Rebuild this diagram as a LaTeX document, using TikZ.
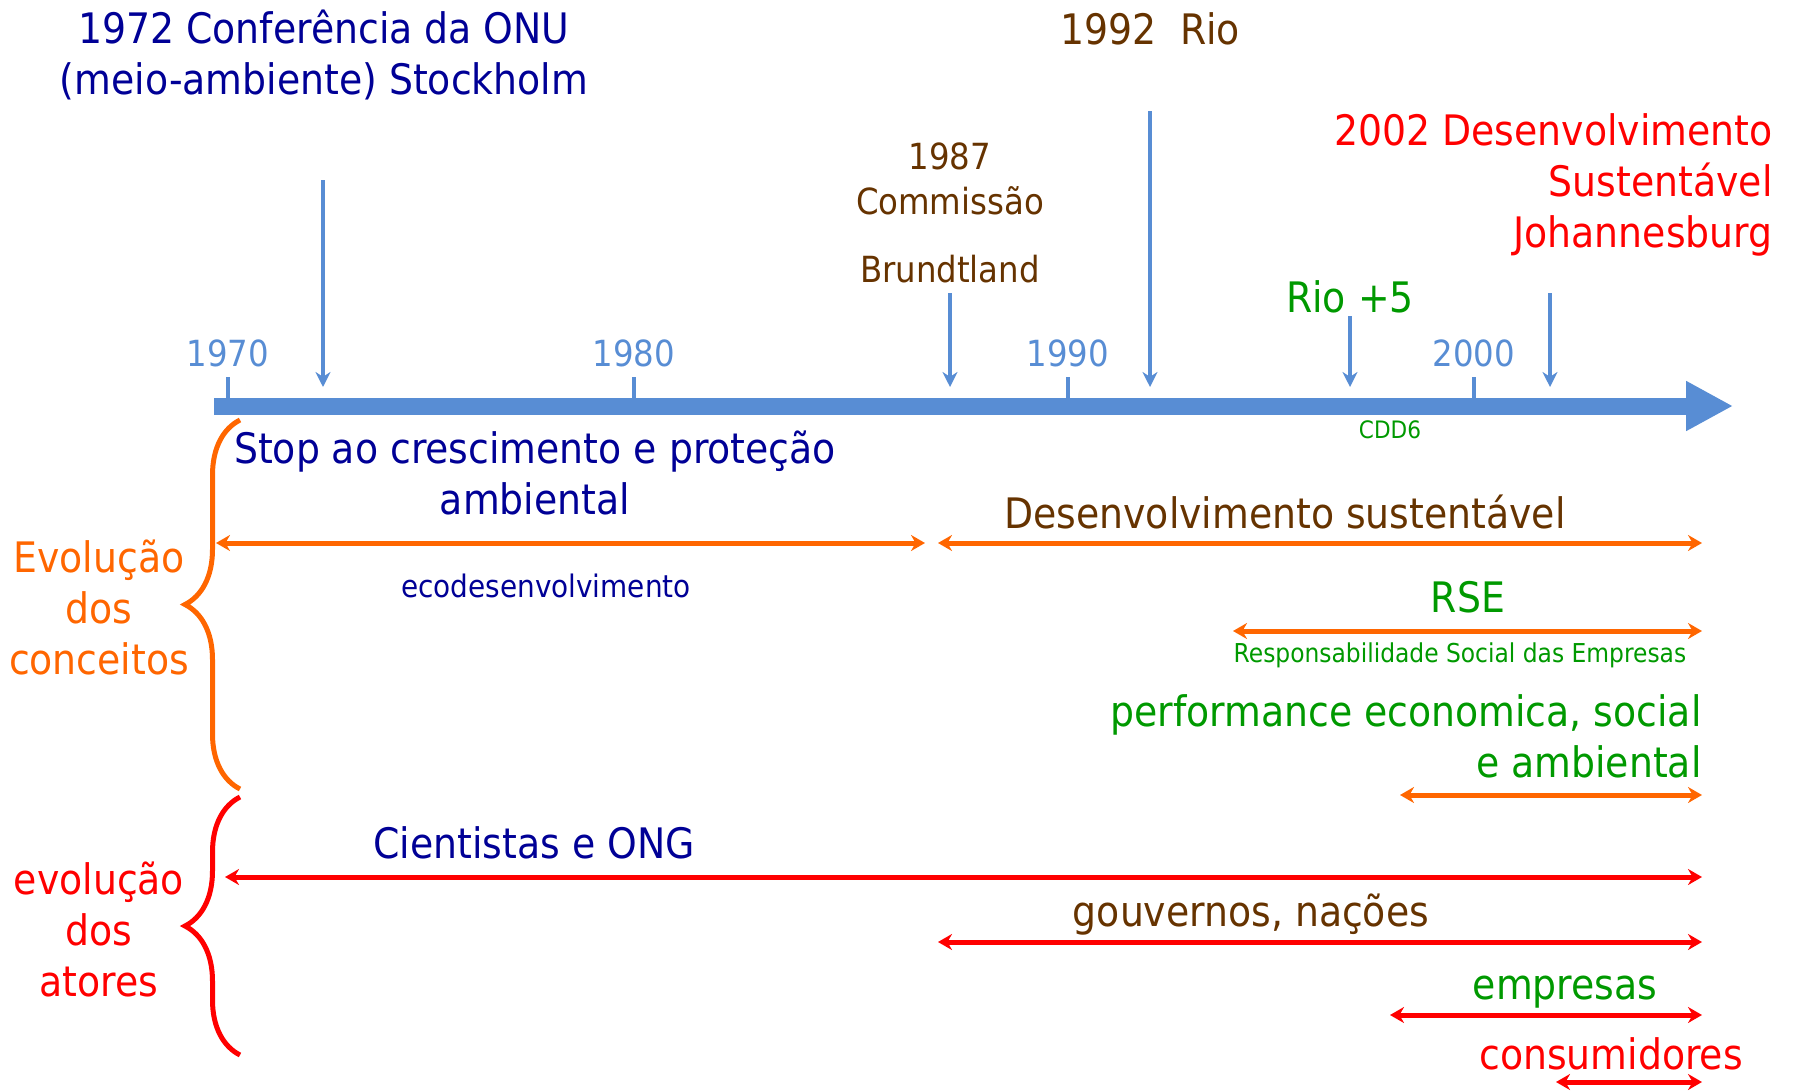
\documentclass[tikz,border=0pt]{standalone}
\usepackage{fontspec}
\setmainfont{DejaVu Sans Condensed}
\usetikzlibrary{arrows.meta,decorations.pathreplacing}
\definecolor{navytext}{RGB}{0,0,150}
\definecolor{browntext}{RGB}{102,51,0}
\definecolor{greentext}{RGB}{0,153,0}
\definecolor{orangeline}{RGB}{255,102,0}
\definecolor{redline}{RGB}{255,0,0}
\definecolor{axisblue}{RGB}{88,141,212}
\begin{document}
\begin{tikzpicture}[x=0.5pt,y=-0.5pt,
  big/.style={font=\fontsize{21}{25.5}\selectfont,inner sep=0pt,align=center},
  mid/.style={font=\fontsize{18}{22.5}\selectfont,inner sep=0pt,align=center},
  small/.style={font=\fontsize{13}{15}\selectfont,inner sep=0pt},
  year/.style={mid,text=axisblue},
  evt/.style={draw=axisblue,line width=1.75pt,-{Stealth[length=7.5pt,width=7.5pt]}},
  tickmark/.style={draw=axisblue,line width=1.75pt},
  span/.style={line width=2.5pt,{Stealth[length=7pt,width=8pt]}-{Stealth[length=7pt,width=8pt]}},
  curly/.style={line width=2.5pt,decorate,decoration={brace,amplitude=27.5pt}}]
\useasboundingbox (0,0) rectangle (1794,1092);
% Time axis
\coordinate (tlstart) at (214,406);
\coordinate (tlend) at (1733,406);
\draw[axisblue,line width=8.5pt,-{Triangle[length=23.5pt,width=23.5pt]}] (tlstart) -- (tlend);
\foreach \x/\yr in {228/1970,634/1980,1068/1990,1474/2000} {
  \node[year] (y\yr) at (\x,353) {\yr};
  \draw[tickmark] (\x,398) -- (\x,377);
}
% Events
\foreach \n/\x/\y in {stockholm/323/180,brundtland/950/293,rio/1150/111,rioplus/1350/316,joburg/1550/293} {
  \coordinate (\n-top) at (\x,\y);
  \coordinate (\n-bot) at (\x,387);
  \draw[evt] (\n-top) -- (\n-bot);
}
\node[big,text=navytext] (stockholm) at (324,55) {1972 Conferência da ONU\\(meio-ambiente) Stockholm};
\node[big,text=browntext] (rio) at (1150,29) {1992\ \ Rio};
\node[mid,text=browntext] (brundtland) at (950,213) {1987\\Commissão\\[11.5pt]Brundtland};
\node[big,text=greentext] (rioplus) at (1350,297) {Rio +5};
\node[big,text=redline,align=right,anchor=east] (joburg) at (1773,185) {2002 Desenvolvimento\\Sustentável\\Johannesburg};
\node[font=\fontsize{12}{14}\selectfont,inner sep=0pt,text=greentext] (cdd) at (1390,430) {CDD6};
% Braces
\draw[curly,orangeline] (240,789) -- (240,420);
\draw[curly,redline] (240,1055) -- (240,797);
\node[big,text=orangeline] (conceitos) at (99,607) {Evolução\\dos\\conceitos};
\node[big,text=redline] (atores) at (99,929) {evolução\\dos\\atores};
% Concepts and actors
\node[big,text=navytext] (stop) at (535,473) {Stop ao crescimento e proteção\\ambiental};
\node[font=\fontsize{15.5}{18}\selectfont,inner sep=0pt,text=navytext] (eco) at (546,586) {ecodesenvolvimento};
\node[big,text=browntext] (ds) at (1285,512) {Desenvolvimento sustentável};
\node[big,text=greentext] (rse) at (1468,597) {RSE};
\node[small,text=greentext] (rsefull) at (1460,655) {Responsabilidade Social das Empresas};
\node[big,text=greentext,align=right,anchor=east] (perf) at (1702,736) {performance economica, social\\e ambiental};
\node[big,text=navytext] (ong) at (534,843) {Cientistas e ONG};
\node[big,text=browntext] (gov) at (1251,915) {gouvernos, nações};
\node[big,text=greentext] (emp) at (1565,992) {empresas};
\node[big,text=redline] (cons) at (1611,1054) {consumidores};
\foreach \n/\xa/\xb/\y/\c in {eco/216/925/543/orangeline,ds/938/1702/543/orangeline,rse/1233/1702/631/orangeline,perf/1400/1702/795/orangeline,ong/225/1702/877/redline,gov/938/1702/942/redline,emp/1390/1702/1015/redline,cons/1556/1702/1082/redline} {
  \coordinate (\n-l) at (\xa,\y);
  \coordinate (\n-r) at (\xb,\y);
  \draw[span,\c] (\n-l) -- (\n-r);
}
\end{tikzpicture}
\end{document}
